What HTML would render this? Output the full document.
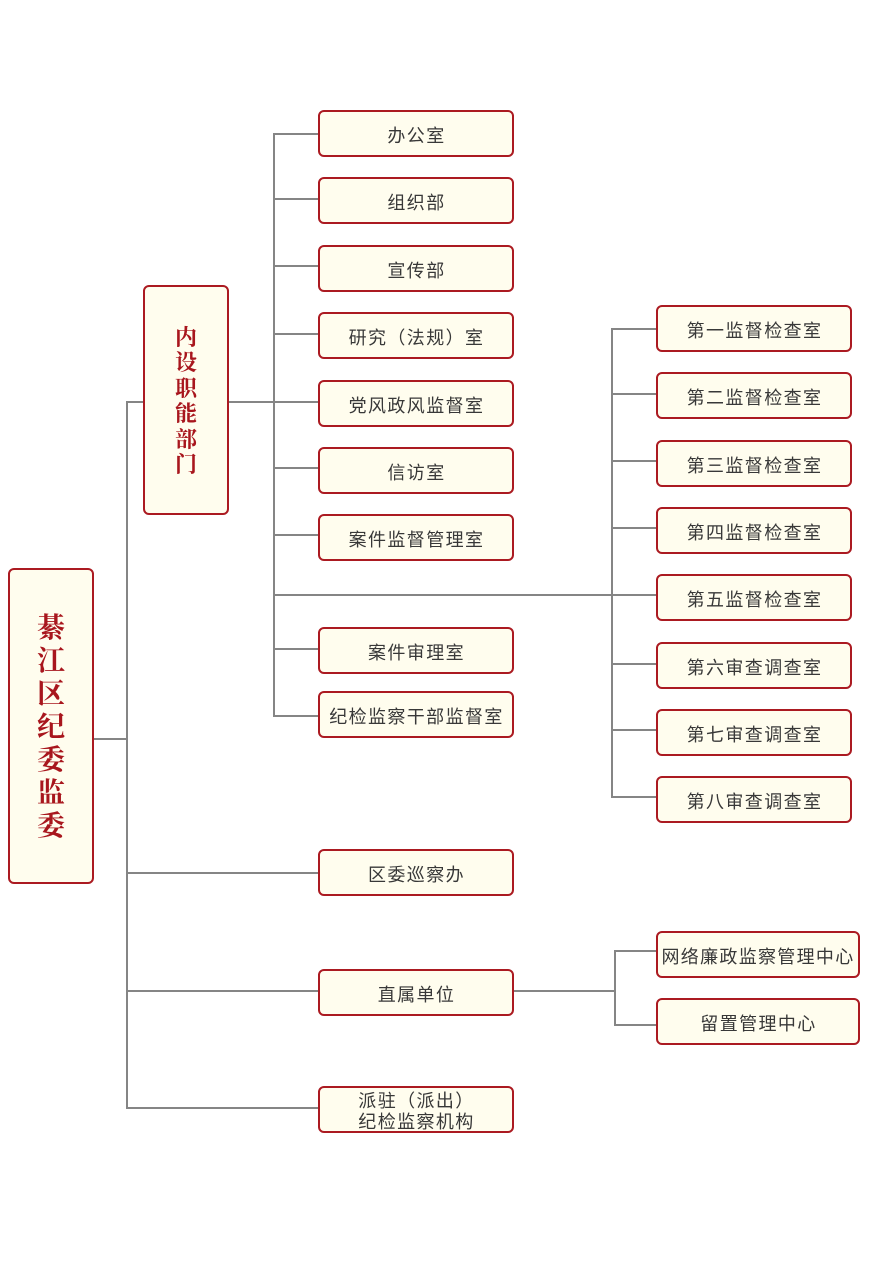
<!DOCTYPE html>
<html><head><meta charset="utf-8">
<style>
html,body{margin:0;padding:0;background:#fff;}
body{width:876px;height:1270px;position:relative;overflow:hidden;}
.b{position:absolute;box-sizing:border-box;border:2px solid #ab1a21;border-radius:6px;background:#fffdee;display:flex;align-items:center;justify-content:center;text-align:center;color:#383838;font-family:"Liberation Sans","Noto Sans CJK SC",sans-serif;font-size:18px;letter-spacing:1.4px;padding-left:1px;padding-top:2px;white-space:nowrap;}
.v{color:#a8161d;font-family:"Liberation Serif","Noto Serif CJK SC",serif;font-weight:bold;letter-spacing:0;padding:0;white-space:normal;}
svg{position:absolute;left:0;top:0;}
</style></head><body>
<svg width="876" height="1270" viewBox="0 0 876 1270">
<g stroke="#858585" stroke-width="2" fill="none">
<line x1="93" y1="739" x2="127" y2="739"/>
<line x1="127" y1="401" x2="127" y2="1109"/>
<line x1="127" y1="402" x2="144" y2="402"/>
<line x1="127" y1="873" x2="318" y2="873"/>
<line x1="127" y1="991" x2="318" y2="991"/>
<line x1="127" y1="1108" x2="318" y2="1108"/>
<line x1="228" y1="402" x2="318" y2="402"/>
<line x1="274" y1="133" x2="274" y2="717"/>
<line x1="274" y1="134" x2="318" y2="134"/>
<line x1="274" y1="199" x2="318" y2="199"/>
<line x1="274" y1="266" x2="318" y2="266"/>
<line x1="274" y1="334" x2="318" y2="334"/>
<line x1="274" y1="468" x2="318" y2="468"/>
<line x1="274" y1="535" x2="318" y2="535"/>
<line x1="274" y1="595" x2="656" y2="595"/>
<line x1="274" y1="649" x2="318" y2="649"/>
<line x1="274" y1="716" x2="318" y2="716"/>
<line x1="612" y1="328" x2="612" y2="798"/>
<line x1="612" y1="329" x2="656" y2="329"/>
<line x1="612" y1="394" x2="656" y2="394"/>
<line x1="612" y1="461" x2="656" y2="461"/>
<line x1="612" y1="528" x2="656" y2="528"/>
<line x1="612" y1="664" x2="656" y2="664"/>
<line x1="612" y1="730" x2="656" y2="730"/>
<line x1="612" y1="797" x2="656" y2="797"/>
<line x1="513" y1="991" x2="615" y2="991"/>
<line x1="615" y1="950" x2="615" y2="1026"/>
<line x1="615" y1="951" x2="656" y2="951"/>
<line x1="615" y1="1025" x2="656" y2="1025"/>
</g>
</svg>

<div class="b v" style="left:8px;top:568px;width:86px;height:316px;font-size:28px;line-height:33px;"><div style="width:30px;padding-top:2px;">綦江区纪委监委</div></div>
<div class="b v" style="left:143px;top:285px;width:86px;height:230px;font-size:22px;line-height:25.5px;"><div style="width:24px;padding-top:2px;">内设职能部门</div></div>

<div class="b" style="left:318px;top:110px;width:196px;height:47px;">办公室</div>
<div class="b" style="left:318px;top:177px;width:196px;height:47px;">组织部</div>
<div class="b" style="left:318px;top:245px;width:196px;height:47px;">宣传部</div>
<div class="b" style="left:318px;top:312px;width:196px;height:47px;">研究（法规）室</div>
<div class="b" style="left:318px;top:380px;width:196px;height:47px;">党风政风监督室</div>
<div class="b" style="left:318px;top:447px;width:196px;height:47px;">信访室</div>
<div class="b" style="left:318px;top:514px;width:196px;height:47px;">案件监督管理室</div>
<div class="b" style="left:318px;top:627px;width:196px;height:47px;">案件审理室</div>
<div class="b" style="left:318px;top:691px;width:196px;height:47px;">纪检监察干部监督室</div>
<div class="b" style="left:318px;top:849px;width:196px;height:47px;">区委巡察办</div>
<div class="b" style="left:318px;top:969px;width:196px;height:47px;">直属单位</div>
<div class="b" style="left:318px;top:1086px;width:196px;height:47px;line-height:21px;flex-direction:column;padding-top:5px;">派驻（派出）<br>纪检监察机构</div>

<div class="b" style="left:656px;top:305px;width:196px;height:47px;">第一监督检查室</div>
<div class="b" style="left:656px;top:372px;width:196px;height:47px;">第二监督检查室</div>
<div class="b" style="left:656px;top:440px;width:196px;height:47px;">第三监督检查室</div>
<div class="b" style="left:656px;top:507px;width:196px;height:47px;">第四监督检查室</div>
<div class="b" style="left:656px;top:574px;width:196px;height:47px;">第五监督检查室</div>
<div class="b" style="left:656px;top:642px;width:196px;height:47px;">第六审查调查室</div>
<div class="b" style="left:656px;top:709px;width:196px;height:47px;">第七审查调查室</div>
<div class="b" style="left:656px;top:776px;width:196px;height:47px;">第八审查调查室</div>

<div class="b" style="left:656px;top:931px;width:204px;height:47px;letter-spacing:1.3px;padding-left:0;">网络廉政监察管理中心</div>
<div class="b" style="left:656px;top:998px;width:204px;height:47px;">留置管理中心</div>
</body></html>
